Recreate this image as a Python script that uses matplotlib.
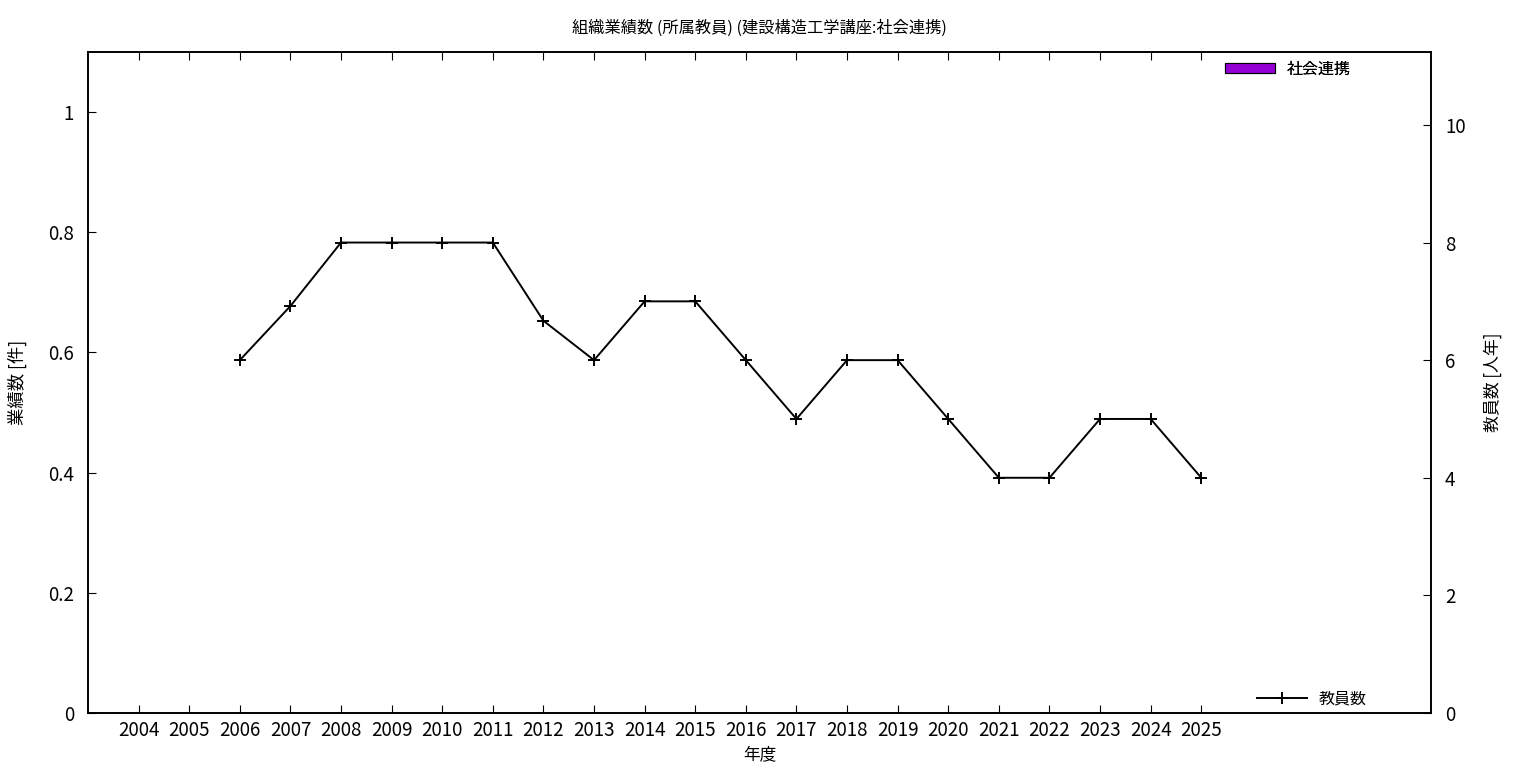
import numpy as np
import matplotlib
matplotlib.use('Agg')
import matplotlib.pyplot as plt

plt.rcParams['font.family'] = ['Noto Sans CJK JP', 'DejaVu Sans']

# data
years = list(range(2004, 2026))
renkei = [0] * len(years)  # 社会連携 (no records)
staff_years = list(range(2006, 2026))
staff = [6, 6.92, 8, 8, 8, 8, 6.67, 6, 7, 7, 6, 5, 6, 6, 5, 4, 4, 5, 5, 4]

fig = plt.figure(figsize=(15.36, 7.68), dpi=100)
ax = fig.add_axes([88/1536, 55/768, (1431-88)/1536, (713-52)/768])
ax2 = ax.twinx()

bars = ax.bar(years, renkei, width=0.8, color='#9400d3', edgecolor='black', linewidth=0.8, label='社会連携')
line, = ax2.plot(staff_years, staff, color='black', lw=1.4, marker='+', ms=8, mew=1.4, label='教員数')

ax.set_xlim(2003, 2029.54)
ax.set_ylim(0, 1.1)
ax2.set_ylim(0, 11.24)
ax.set_xticks(years)
ax.set_yticks([0, 0.2, 0.4, 0.6, 0.8, 1])
ax.set_yticklabels(['0', '0.2', '0.4', '0.6', '0.8', '1'])
ax2.set_yticks([0, 2, 4, 6, 8, 10])

ax.tick_params(axis='x', direction='in', top=True, length=6, labelsize=13.5, pad=5)
ax.tick_params(axis='y', direction='in', length=6, labelsize=13.5, pad=10)
ax2.tick_params(axis='y', direction='in', length=6, labelsize=13.5, pad=10)
for a in (ax, ax2):
    for s in a.spines.values():
        s.set_linewidth(1.2)

ax.set_title('組織業績数 (所属教員) (建設構造工学講座:社会連携)', fontsize=11.7, pad=14)
ax.set_xlabel('年度', fontsize=12, labelpad=4)
ax.set_ylabel('業績数 [件]', fontsize=12.5, labelpad=15.5)
ax2.set_ylabel('教員数 [人年]', fontsize=12.2, labelpad=13)

leg1 = ax.legend(handles=[bars], loc='upper right', bbox_to_anchor=(0.951, 1.009), frameon=False,
                 fontsize=11.5, handlelength=3.13, handleheight=0.6, handletextpad=0.75)
ax.add_artist(leg1)
ax2.legend(handles=[line], loc='lower right', bbox_to_anchor=(0.963, -0.014), frameon=False,
           fontsize=11.5, handlelength=3.13, handletextpad=0.75)

fig.savefig('out.png', dpi=100)
